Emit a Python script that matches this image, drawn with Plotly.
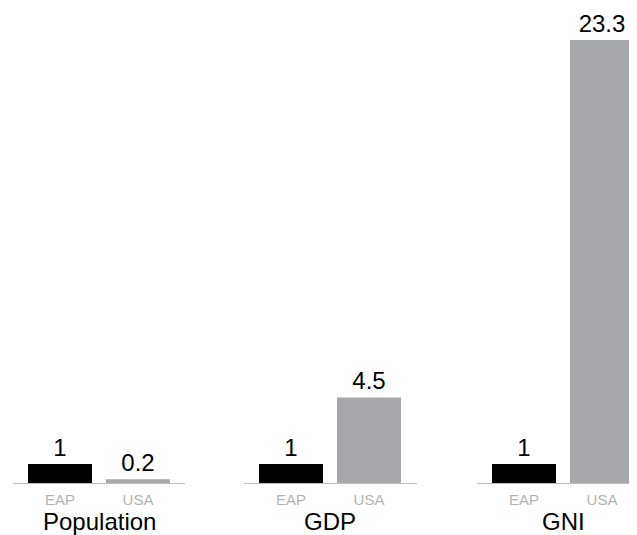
import plotly.graph_objects as go

groups = ["Population", "GDP", "GNI"]
countries = ["EAP", "USA"]
eap_values = [1, 1, 1]
usa_values = [0.2, 4.5, 23.3]
value_labels_eap = ["1", "1", "1"]
value_labels_usa = ["0.2", "4.5", "23.3"]

# page has an 8px body margin; work in figure coordinates
OFF = 8
W, H = 637 - OFF, 535 - OFF
FONT = "Liberation Sans, Arial, Helvetica, sans-serif"
EAP_COLOR = "#000000"
USA_COLOR = "#a7a8ab"
LINE_COLOR = "#bdbdbd"
TICK_COLOR = "#b3b3b3"

# pixel extents (page coords) of each panel's baseline
domains_px = [(13, 185), (244, 417), (477, 637)]
unit_px = 78.0      # px between category centres
bar_px = 64.0
side_px = 15.0      # baseline overhang beyond outer bar edge
bar_w = bar_px / unit_px

fig = go.Figure()
for i, g in enumerate(groups):
    ax = "" if i == 0 else str(i + 1)
    fig.add_trace(go.Bar(
        x=countries,
        y=[eap_values[i], usa_values[i]],
        text=[value_labels_eap[i], value_labels_usa[i]],
        textposition="outside",
        textfont=dict(size=24, color="#000000", family=FONT),
        constraintext="none",
        cliponaxis=False,
        marker=dict(color=[EAP_COLOR, USA_COLOR], line=dict(width=0)),
        width=bar_w,
        xaxis="x" + ax,
        yaxis="y",
        showlegend=False,
        hoverinfo="skip",
    ))
    d0, d1 = domains_px[i]
    d0 -= OFF
    d1 = min(d1 - OFF, W)
    r0 = -(side_px + bar_px / 2) / unit_px
    r1 = r0 + (d1 - d0) / unit_px
    fig.layout["xaxis" + ax] = dict(
        domain=[d0 / W, d1 / W],
        range=[r0, r1],
        type="category",
        showline=True,
        linecolor=LINE_COLOR,
        linewidth=1,
        ticks="",
        showgrid=False,
        zeroline=False,
        tickfont=dict(size=15, color=TICK_COLOR, family=FONT),
        ticklabelstandoff=3,
        anchor="y",
        fixedrange=True,
    )
    fig.add_annotation(
        x=0.5, xref="x" + ax, y=0, yref="paper",
        yanchor="top", yshift=-23,
        text=g, showarrow=False,
        font=dict(size=24, color="#000000", family=FONT),
    )

base_y = 483 - OFF
px_per_unit = 19.01
fig.update_layout(
    width=W, height=H,
    margin=dict(l=0, r=0, t=0, b=H - base_y),
    paper_bgcolor="white",
    plot_bgcolor="white",
    yaxis=dict(range=[0, base_y / px_per_unit], visible=False, fixedrange=True),
    font=dict(family=FONT),
)

fig.write_html("out.html")
